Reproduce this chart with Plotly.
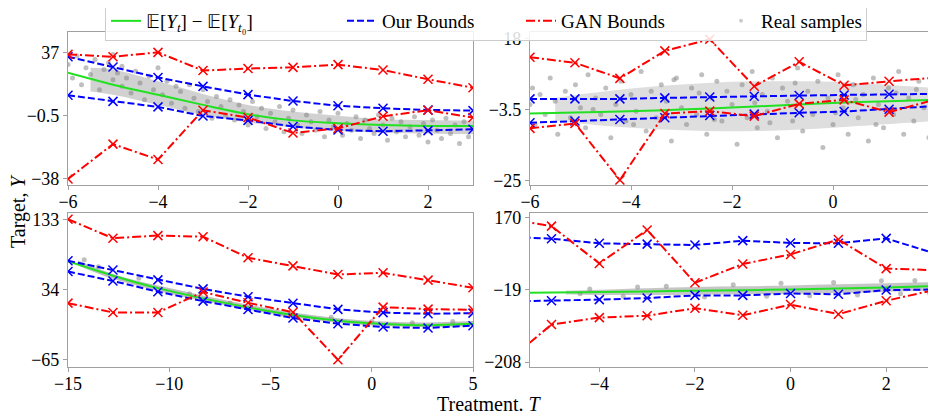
import plotly.graph_objects as go

# ---------------- data ----------------
# Top-left panel
x_tl = [-6, -5, -4, -3, -2, -1, 0, 1, 2, 3]
green_tl = [25.1, 18.0, 12.0, 6.0, 0.5, -3.2, -4.9, -6.0, -6.5, -6.5]
blue_up_tl = [34.6, 28.5, 22.3, 17.0, 12.1, 8.3, 5.5, 4.0, 3.0, 2.6]
blue_lo_tl = [11.7, 8.1, 4.8, -0.6, -3.2, -6.8, -8.9, -9.7, -9.3, -8.5]
red_up_tl = [36.0, 34.6, 37.2, 26.4, 27.6, 28.3, 29.9, 26.7, 21.2, 16.2]
red_lo_tl = [-38.0, -17.3, -26.5, 2.8, -1.5, -10.7, -8.0, -0.8, 2.8, -1.5]
band_x_tl = [-5.5, -5, -4, -3, -2, -1, 0, 1, 2, 3]
band_up_tl = [28, 27, 20, 12.5, 6, 2, -0.5, -2.5, -3, -3.5]
band_lo_tl = [14, 12, 6, 0, -4.5, -7.5, -9.5, -10.5, -11, -11.5]
pts_x_tl = [-6.0, -5.9, -5.8, -5.7, -5.6, -5.5, -5.4, -5.3, -5.2, -5.1, -5.0, -5.0, -4.9, -4.8, -4.8,
            -4.7, -4.6, -4.5, -4.4, -4.3, -4.2, -4.1, -4.0, -3.9, -3.8, -3.7, -3.6, -3.5, -3.4, -3.3,
            -3.2, -3.1, -3.0, -2.9, -2.8, -2.7, -2.6, -2.5, -2.4, -2.3, -2.2, -2.1, -2.0, -1.9, -1.8,
            -1.7, -1.6, -1.5, -1.4, -1.3, -1.2, -1.1, -1.0, -0.9, -0.8, -0.7, -0.6, -0.5, -0.4, -0.3,
            -0.2, -0.1, 0.0, 0.1, 0.2, 0.3, 0.4, 0.5, 0.6, 0.7, 0.8, 0.9, 1.0, 1.1, 1.2,
            1.3, 1.4, 1.5, 1.6, 1.7, 1.8, 1.9, 2.0, 2.1, 2.2, 2.3, 2.4, 2.5, 2.6, 2.7,
            2.8, 2.9, 3.0]
pts_y_tl = [30, 22, 35, 18, 28, 24, 33, 15, 27, 31, 21, 36, 25, 17, 29,
            22, 13, 26, 19, 9, 23, 15, 28, 12, 20, 7, 17, 14, 4, 18,
            10, 2, 15, 8, -2, 11, 5, 0, 9, -3, 6, 2, -6, 8, -1,
            4, -8, 1, -4, 5, -10, -2, 3, -6, -11, 0, -4, -9, 2, -13,
            -3, -7, 1, -12, -5, -9, -1, -14, -3, -8, -11, 0, -6, -15, -2,
            -10, -4, -13, -7, -1, -12, -5, -16, -3, -9, -14, -2, -11, -6, -17,
            -4, -13, -8]

# Top-right panel
x_tr = [-6.0, -5.11, -4.22, -3.33, -2.44, -1.56, -0.67, 0.22, 1.11, 2.0]
green_tr = [-4.7, -4.4, -4.1, -3.7, -3.2, -2.6, -2.0, -1.4, -1.0, -0.6]
blue_up_tr = [-0.3, -0.3, -0.3, 0.0, 0.3, 0.5, 0.7, 0.9, 1.1, 1.2]
blue_lo_tr = [-7.5, -7.0, -6.5, -6.0, -5.3, -4.9, -4.5, -4.1, -3.4, -2.5]
red_up_tr = [12.3, 10.6, 5.9, 14.2, 17.7, 3.5, 10.9, 3.8, 5.0, 6.1]
red_lo_tr = [-9.2, -7.7, -24.8, -4.7, -4.0, -5.5, -1.8, -0.6, -4.3, -0.6]
band_x_tr = [-5.5, -4.5, -3.5, -2.5, -1.5, -0.5, 0.5, 1.5, 2.0]
band_up_tr = [0, 2, 3.5, 4.5, 5, 5, 4.5, 3.5, 3]
band_lo_tr = [-7, -8.5, -9.5, -10, -10, -9.5, -8.5, -7.5, -7]
pts_x_tr = [-6.0, -5.95, -5.9, -5.8, -5.7, -5.6, -5.5, -5.45, -5.3, -5.2, -5.1, -5.0, -4.9, -4.85, -4.7,
            -4.6, -4.5, -4.4, -4.3, -4.2, -4.1, -4.0, -3.9, -3.8, -3.7, -3.6, -3.5, -3.4, -3.3, -3.2,
            -3.1, -3.0, -2.9, -2.8, -2.7, -2.6, -2.5, -2.4, -2.3, -2.2, -2.1, -2.0, -1.9, -1.8, -1.7,
            -1.6, -1.5, -1.4, -1.3, -1.2, -1.1, -1.0, -0.9, -0.8, -0.7, -0.6, -0.5, -0.4, -0.3, -0.2,
            -0.1, 0.0, 0.1, 0.2, 0.3, 0.4, 0.5, 0.6, 0.7, 0.8, 0.9, 1.0, 1.1, 1.2, 1.3,
            1.4, 1.5, 1.6, 1.7, 1.8, 1.9, 2.0, 2.1, 2.15, -4.75, -3.95, -3.15, -2.35, -1.55, -0.75,
            0.05, 0.85, 1.65, -2.65, -1.25, 0.45, 1.25]
pts_y_tr = [-2, 3, -8, 1, -5, 6, -1, -11, 2, -6, 4, -3, -9, 7, 0,
            -5, 3, -12, -2, 5, -7, 1, -4, 8, -10, 2, -6, 4, -1, -13,
            6, -3, -8, 3, -5, 7, -11, 0, 5, -7, 2, -2, -14, 4, -6,
            8, -9, 1, -4, 6, -12, 3, -1, -7, 9, -10, 2, -5, 5, -15,
            0, -8, 7, -3, -11, 4, -6, 1, -13, 6, -2, -9, 3, -5, 8,
            -11, 0, -7, 5, -3, -12, 2, -6, 6, -3.5, -8, 5.5, -6.5, -1.5, 4.5,
            -4.5, -8, 2.5, 1.5, -7.5, -0.5, 1.5]

# Bottom-left panel
x_bl = [-15.0, -12.78, -10.56, -8.33, -6.11, -3.89, -1.67, 0.56, 2.78, 5.0]
green_bl = [73.8, 53.5, 35.9, 21.5, 8.8, -2.0, -10.0, -14.5, -16.3, -14.3]
blue_up_bl = [74.6, 61.5, 47.6, 34.9, 23.8, 14.5, 6.0, 1.4, -0.3, 0.7]
blue_lo_bl = [59.3, 46.0, 30.8, 17.6, 5.8, -6.3, -14.3, -19.0, -20.2, -17.0]
red_up_bl = [133.0, 106.3, 110.0, 108.5, 78.8, 67.3, 55.2, 57.5, 47.2, 36.4]
red_lo_bl = [14.8, 1.6, 1.6, 30.5, 15.2, 2.0, -65.0, 9.1, 6.3, 5.4]
band_x_bl = [-14.5, -12.78, -10.56, -8.33, -6.11, -3.89, -1.67, 0.56, 2.78, 5.0]
band_up_bl = [75, 56, 39.5, 25.5, 12.5, 1.5, -6.5, -11, -12.5, -10.5]
band_lo_bl = [68, 49, 32, 18, 5.5, -5, -13, -17.5, -19, -17.5]
pts_x_bl = [-14.2, -13.5, -11.5, -9.0, -7.0, -4.5, -2.0, 0.0, 2.0, 4.0]
pts_y_bl = [76, 66, 50, 28, 15, -1, -5, -11, -13, -11]

# Bottom-right panel
x_br = [-6, -5, -4, -3, -2, -1, 0, 1, 2, 3]
green_br = [-28.3, -26.5, -25.0, -23.5, -22.0, -20.3, -18.6, -16.0, -13.3, -9.8]
blue_up_br = [120, 114, 102, 100, 97.5, 109, 103, 102, 115, 76]
blue_lo_br = [-50, -48, -45, -41, -34, -34, -29, -31, -20, -18.6]
red_up_br = [167, 147, 49.5, 137, -1, 48, 73, 112, 36, 32]
red_lo_br = [-215, -110, -92, -87, -67.5, -86, -58, -83, -48, -20]
band_x_br = [-4.7, -4, -3, -2, -1, 0, 1, 2, 3]
band_up_br = [-22, -19, -15, -12, -10, -8, -5, -2, 1]
band_lo_br = [-31, -33, -33, -32, -31, -30, -28, -25, -21]
pts_x_br = [-4.4, -3.5, -2.6, -1.8, -1.2, -0.5, -0.2, 0.4, 0.9, 1.4, 1.9, 2.3, 2.6, 2.9, 2.95, -3.2, -4.2]
pts_y_br = [-30, -36, -10, -38, -6, -36, -2, -35, 0, -33, 4, -30, 5, -27, 3, -12, -17]

legend_labels = ["𝔼[<i>Y<sub>t</sub></i>] − 𝔼[<i>Y<sub>t</sub></i><sub>₀</sub>]",
                 "Our Bounds", "GAN Bounds", "Real samples"]

panels = [
    dict(x=x_tl, g=green_tl, bu=blue_up_tl, bl=blue_lo_tl, ru=red_up_tl, rl=red_lo_tl,
         bx=band_x_tl, bup=band_up_tl, blo=band_lo_tl, px=pts_x_tl, py=pts_y_tl),
    dict(x=x_tr, g=green_tr, bu=blue_up_tr, bl=blue_lo_tr, ru=red_up_tr, rl=red_lo_tr,
         bx=band_x_tr, bup=band_up_tr, blo=band_lo_tr, px=pts_x_tr, py=pts_y_tr),
    dict(x=x_bl, g=green_bl, bu=blue_up_bl, bl=blue_lo_bl, ru=red_up_bl, rl=red_lo_bl,
         bx=band_x_bl, bup=band_up_bl, blo=band_lo_bl, px=pts_x_bl, py=pts_y_bl),
    dict(x=x_br, g=green_br, bu=blue_up_br, bl=blue_lo_br, ru=red_up_br, rl=red_lo_br,
         bx=band_x_br, bup=band_up_br, blo=band_lo_br, px=pts_x_br, py=pts_y_br),
]

GREEN = "#22e022"
BLUE = "#0000ff"
RED = "#ff0000"
GREY = "#808080"
SERIF = "Liberation Serif, Times New Roman, serif"
BLUE_DASH = "7px,3px"
RED_DASH = "9px,3px,2px,3px"

W, H = 936, 417
OFF = 8  # page body margin offset in the screenshot


def px_x(p):
    return (p - OFF) / W


def px_y(p):
    return 1 - (p - OFF) / H


fig = go.Figure()
band_alpha = [0.36, 0.26, 0.5, 0.45]

for i, p in enumerate(panels):
    xa = "x" if i == 0 else f"x{i+1}"
    ya = "y" if i == 0 else f"y{i+1}"
    fig.add_trace(go.Scatter(x=p["bx"], y=p["bup"], mode="lines", line=dict(width=0, shape="spline"),
                             hoverinfo="skip", showlegend=False, xaxis=xa, yaxis=ya))
    fig.add_trace(go.Scatter(x=p["bx"], y=p["blo"], mode="lines", line=dict(width=0, shape="spline"),
                             fill="tonexty", fillcolor=f"rgba(128,128,128,{band_alpha[i]})",
                             hoverinfo="skip", showlegend=False, xaxis=xa, yaxis=ya))
    fig.add_trace(go.Scatter(x=p["px"], y=p["py"], mode="markers",
                             marker=dict(color=GREY, size=5, opacity=0.5),
                             showlegend=False, xaxis=xa, yaxis=ya))
    fig.add_trace(go.Scatter(x=p["x"], y=p["g"], mode="lines",
                             line=dict(color=GREEN, width=2, shape="spline"),
                             showlegend=False, xaxis=xa, yaxis=ya))
    for key in ("bu", "bl"):
        fig.add_trace(go.Scatter(x=p["x"], y=p[key], mode="lines+markers",
                                 line=dict(color=BLUE, width=2, dash=BLUE_DASH),
                                 marker=dict(symbol="x-thin", size=9, color=BLUE,
                                             line=dict(color=BLUE, width=1.5)),
                                 showlegend=False, xaxis=xa, yaxis=ya))
    for key in ("ru", "rl"):
        fig.add_trace(go.Scatter(x=p["x"], y=p[key], mode="lines+markers",
                                 line=dict(color=RED, width=2, dash=RED_DASH),
                                 marker=dict(symbol="x-thin", size=9, color=RED,
                                             line=dict(color=RED, width=1.5)),
                                 showlegend=False, xaxis=xa, yaxis=ya))

# legend-only entries (line styles without markers, as in the reference)
fig.add_trace(go.Scatter(x=[None], y=[None], mode="lines", line=dict(color=GREEN, width=2),
                         name=legend_labels[0], legendwidth=191))
fig.add_trace(go.Scatter(x=[None], y=[None], mode="lines",
                         line=dict(color=BLUE, width=2, dash=BLUE_DASH),
                         name=legend_labels[1], legendwidth=134))
fig.add_trace(go.Scatter(x=[None], y=[None], mode="lines",
                         line=dict(color=RED, width=2, dash=RED_DASH),
                         name=legend_labels[2], legendwidth=155))
fig.add_trace(go.Scatter(x=[None], y=[None], mode="markers",
                         marker=dict(color=GREY, size=4, opacity=0.4),
                         name=legend_labels[3], legendwidth=100))

axis_common = dict(showline=True, mirror=True, linecolor="#a0a0a0", linewidth=1.2,
                   ticks="outside", ticklen=4, tickcolor="#a0a0a0", tickwidth=1,
                   showgrid=False, zeroline=False, automargin=False,
                   tickfont=dict(family=SERIF, size=18, color="black"))
xaxis_common = dict(axis_common, ticklabelstandoff=-4)

dx_l = [px_x(68), px_x(473)]
dx_r = [px_x(530), px_x(934)]
dy_t = [px_y(185), px_y(32)]
dy_b = [px_y(367), px_y(212.7)]

fig.update_layout(
    width=W, height=H,
    margin=dict(l=0, r=0, t=0, b=0, autoexpand=False),
    paper_bgcolor="white", plot_bgcolor="white",
    font=dict(family=SERIF, size=18, color="black"),
    xaxis=dict(domain=dx_l, anchor="y", range=[-6, 3], tickvals=[-6, -4, -2, 0, 2],
               ticktext=["−6", "−4", "−2", "0", "2"], **xaxis_common),
    yaxis=dict(domain=dy_t, anchor="x", range=[-41.6, 49.3], tickvals=[-38, -0.5, 37],
               ticktext=["−38", "−0.5", "37"], **axis_common),
    xaxis2=dict(domain=dx_r, anchor="y2", range=[-6, 2], tickvals=[-6, -4, -2, 0, 2],
                ticktext=["−6", "−4", "−2", "0", "2"], **xaxis_common),
    yaxis2=dict(domain=dy_t, anchor="x2", range=[-26.3, 19.9], tickvals=[-25, -3.5, 18],
                ticktext=["−25", "−3.5", "18"], **axis_common),
    xaxis3=dict(domain=dx_l, anchor="y3", range=[-15, 5], tickvals=[-15, -10, -5, 0, 5],
                ticktext=["−15", "−10", "−5", "0", "5"], **xaxis_common),
    yaxis3=dict(domain=dy_b, anchor="x3", range=[-75.3, 142.3], tickvals=[-65, 34, 133],
                ticktext=["−65", "34", "133"], **axis_common),
    xaxis4=dict(domain=dx_r, anchor="y4", range=[-5.45, 3], tickvals=[-4, -2, 0, 2],
                ticktext=["−4", "−2", "0", "2"], **xaxis_common),
    yaxis4=dict(domain=dy_b, anchor="x4", range=[-221, 182], tickvals=[-208, -19, 170],
                ticktext=["−208", "−19", "170"], **axis_common),
    legend=dict(orientation="h", x=px_x(105), xanchor="left", y=px_y(1), yanchor="top",
                traceorder="normal",
                bgcolor="rgba(255,255,255,0.85)", bordercolor="#cccccc", borderwidth=1,
                font=dict(family=SERIF, size=19, color="black")),
    annotations=[
        dict(text="Target, <i>Y</i>", x=px_x(18), y=px_y(212), xref="paper", yref="paper",
             textangle=-90, showarrow=False, font=dict(family=SERIF, size=20, color="black"),
             xanchor="center", yanchor="middle"),
        dict(text="Treatment. <i>T</i>", x=px_x(489), y=px_y(404), xref="paper", yref="paper",
             showarrow=False, font=dict(family=SERIF, size=20, color="black"),
             xanchor="center", yanchor="middle"),
    ],
)

fig.write_html("out.html")
